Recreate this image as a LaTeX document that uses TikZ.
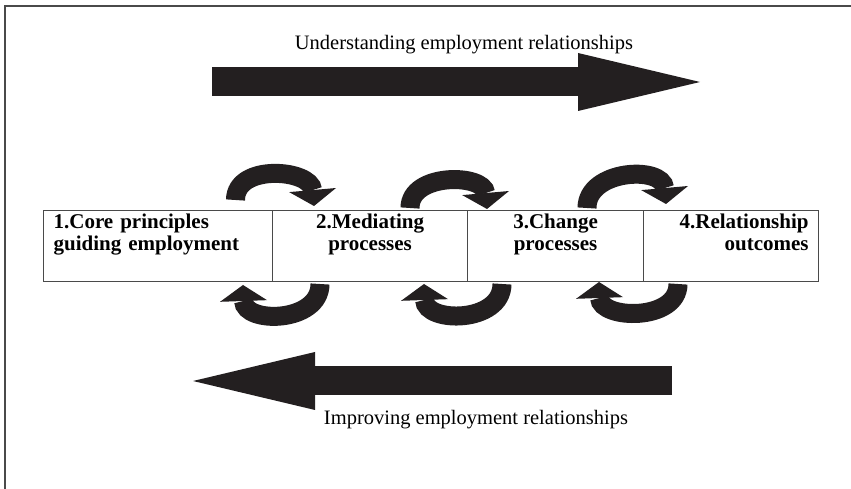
\documentclass[tikz,border=0pt]{standalone}
\usepackage{fontspec}
\setmainfont{Liberation Serif}
\usetikzlibrary{arrows.meta}
\definecolor{arrowInk}{HTML}{231F20}
\definecolor{ruleGray}{HTML}{4A4A4A}

\begin{document}
\begin{tikzpicture}
[x=1pt,y=1pt,
  cellDecorate/.style={draw=ruleGray,line width=1.2pt,anchor=north west,
    inner xsep=10pt,inner ysep=0pt,text height=18pt,text depth=53pt,
    font=\fontsize{21pt}{22pt}\selectfont\bfseries},%
  bigArrow/.style={draw=arrowInk,line width=29pt,
    -{Triangle[length=122pt,width=58pt,line width=0pt]}},%
  loopArrow/.style={draw=arrowInk,line width=19pt,
    -{Triangle[length=16pt,width=47pt,line width=0pt]}},%
  captionDecorate/.style={anchor=base,font=\fontsize{20.5pt}{22pt}\selectfont}]
\useasboundingbox (0,0) rectangle (851,489);
%% frame
\draw[ruleGray,line width=1.5pt] (851,483) -| (5,0);
%% the four stages
\foreach \nodename/\x/\w/\al/\txt in {
  c1/43/209/left/{1.Core principles\\guiding employment},
  c2/272/175/center/{2.Mediating\\processes},
  c3/467/156/center/{3.Change\\processes},
  c4/643/155/right/{4.Relationship\\outcomes}}
{
  \node[cellDecorate,text width=\w pt,align=\al] (\nodename) at (\x,279) {\txt};
}
%% ends of the big arrows and of the loops
\foreach \nodename/\x/\y in {
  u0/212/407, u1/700/407, m0/672/108, m1/193/108,
  f1/235.5/289, t1/314/283, f2/410/281, t2/487/280, f3/587/281, t3/666/285,
  g1/320/205, h1/243/204, g2/502/205, h2/424/205, g3/678/205, h3/599/207}
{
  \coordinate (\nodename) at (\x,\y);
}
%% big arrows
\draw[bigArrow] (u0) -- (u1);
\draw[bigArrow] (m0) -- (m1);
\node[captionDecorate] (uLabel) at (464,439) {Understanding employment relationships};
\node[captionDecorate] (mLabel) at (476,64) {Improving employment relationships};
%% loops over and under the stages
\path
\foreach \startnode/\endnode/\o/\i/\l in {
  f1/t1/90/95/1.2, f2/t2/90/95/1.18, f3/t3/90/95/1.25,
  g1/h1/-90/-88/1.3, g2/h2/-90/-88/1.3, g3/h3/-90/-88/1.22}
{
  (\startnode) edge[loopArrow,out=\o,in=\i,looseness=\l] (\endnode)
};
\end{tikzpicture}
\end{document}
